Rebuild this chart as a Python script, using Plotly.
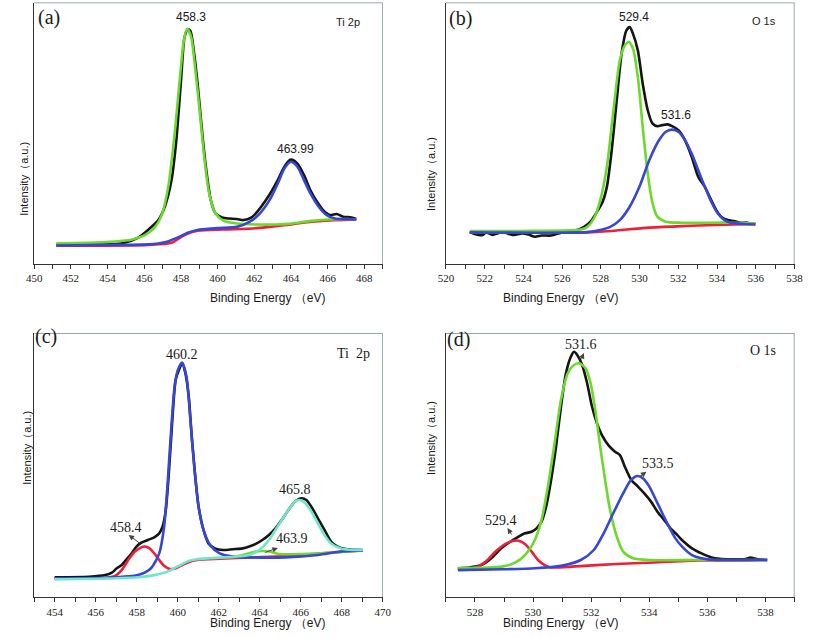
import plotly.graph_objects as go

# ---------------- data (binding energy eV, intensity a.u.) ----------------
# Panel (a) Ti 2p
a_black_x = [451.21, 453.03, 454.81, 455.70, 456.24, 456.77, 457.13, 457.49, 457.75, 458.02, 458.20, 458.38, 458.52, 458.70, 458.91, 459.13, 459.36, 459.63, 459.89, 460.25, 460.61, 461.05, 461.41, 461.85, 462.21, 462.57, 462.92, 463.28, 463.64, 463.99, 464.35, 464.71, 465.06, 465.42, 465.78, 466.13, 466.49, 466.84, 467.29, 467.56]
a_black_y = [7.3, 7.3, 7.9, 10.2, 13.2, 16.8, 22.1, 32.1, 47.3, 71.5, 86.8, 89.7, 89.1, 81.7, 69.0, 52.4, 37.2, 24.4, 19.3, 17.8, 17.4, 17.2, 16.8, 17.8, 20.4, 23.8, 27.6, 32.1, 37.2, 39.9, 38.4, 34.0, 28.2, 23.8, 20.4, 18.7, 19.1, 18.1, 17.8, 17.2]
a_green_x = [451.21, 453.92, 455.35, 456.06, 456.60, 456.95, 457.31, 457.66, 457.93, 458.16, 458.34, 458.56, 458.77, 459.00, 459.27, 459.54, 459.89, 460.34, 461.05, 462.12, 463.19, 464.08, 464.97, 466.04, 467.11, 467.56]
a_green_y = [7.9, 8.4, 9.4, 11.1, 14.2, 18.7, 29.5, 49.9, 70.0, 85.5, 89.9, 86.8, 75.3, 60.1, 41.0, 27.0, 19.3, 16.5, 15.5, 15.1, 15.1, 15.5, 16.4, 17.0, 17.2, 17.0]
a_blue_x = [451.21, 453.92, 456.24, 457.13, 457.84, 458.38, 458.91, 459.98, 461.05, 461.76, 462.30, 462.83, 463.28, 463.64, 463.99, 464.35, 464.71, 465.06, 465.51, 465.95, 466.40, 466.93, 467.56]
a_blue_y = [7.1, 7.3, 7.5, 8.3, 10.2, 12.0, 13.0, 13.7, 14.2, 16.2, 19.3, 24.4, 30.8, 36.5, 39.1, 37.2, 32.1, 27.0, 21.9, 18.7, 17.4, 17.2, 17.0]
a_red_x = [451.21, 456.24, 457.49, 458.20, 458.91, 460.34, 462.12, 463.73, 464.62, 465.69, 467.56]
a_red_y = [7.0, 7.3, 8.1, 11.1, 12.7, 13.2, 13.7, 14.9, 15.8, 16.5, 17.0]

# Panel (b) O 1s
b_black_x = [521.23, 521.48, 521.90, 522.07, 522.41, 522.66, 522.92, 523.42, 523.93, 524.26, 524.60, 524.94, 525.44, 525.95, 526.29, 526.79, 527.13, 527.47, 527.80, 528.06, 528.31, 528.56, 528.82, 529.07, 529.32, 529.49, 529.66, 529.91, 530.16, 530.42, 530.67, 530.92, 531.17, 531.43, 531.68, 532.02, 532.35, 532.69, 533.03, 533.37, 533.70, 533.96, 534.21, 534.55, 534.88, 535.22, 535.56, 535.98]
b_black_y = [12.3, 11.5, 11.1, 12.1, 11.1, 11.7, 12.3, 11.1, 11.7, 11.3, 10.4, 10.9, 10.9, 12.0, 12.3, 13.0, 14.2, 16.2, 20.0, 23.2, 29.5, 43.5, 62.6, 80.4, 89.3, 90.6, 88.0, 81.7, 69.0, 58.8, 53.7, 52.7, 53.1, 53.4, 52.7, 51.1, 47.3, 41.0, 33.3, 29.5, 24.4, 20.6, 18.1, 16.8, 16.4, 15.8, 15.8, 15.3]
b_green_x = [521.23, 524.60, 526.96, 527.30, 527.64, 527.97, 528.31, 528.65, 528.98, 529.24, 529.44, 529.66, 529.91, 530.16, 530.42, 530.67, 530.92, 531.34, 532.19, 534.71, 535.98]
b_green_y = [12.6, 12.7, 13.2, 14.2, 17.4, 24.4, 37.2, 58.8, 77.9, 83.6, 84.9, 82.3, 71.5, 52.4, 34.6, 23.2, 18.1, 16.2, 15.8, 15.8, 15.5]
b_blue_x = [521.23, 527.30, 527.97, 528.48, 528.98, 529.49, 529.99, 530.50, 531.00, 531.34, 531.68, 532.02, 532.35, 532.69, 533.03, 533.37, 533.70, 534.04, 534.38, 534.71, 535.39, 535.98]
b_blue_y = [12.1, 12.2, 13.0, 14.2, 16.8, 21.9, 29.5, 39.7, 47.3, 50.5, 51.4, 50.5, 47.3, 42.2, 35.9, 29.5, 23.8, 19.3, 16.8, 15.8, 15.3, 15.1]
b_red_x = [521.23, 527.30, 528.31, 529.32, 530.50, 532.19, 533.87, 535.98]
b_red_y = [12.1, 12.1, 12.5, 13.2, 13.9, 14.5, 14.9, 15.3]

# Panel (c) Ti 2p
c_black_x = [454.00, 455.67, 456.47, 456.79, 457.03, 457.27, 457.51, 457.75, 457.99, 458.23, 458.55, 458.86, 459.10, 459.26, 459.42, 459.58, 459.74, 459.90, 460.06, 460.22, 460.38, 460.54, 460.70, 460.86, 461.02, 461.26, 461.50, 461.81, 462.21, 462.69, 463.17, 463.49, 463.81, 464.13, 464.45, 464.77, 465.08, 465.40, 465.72, 466.04, 466.28, 466.52, 466.84, 467.16, 467.48, 467.80, 468.27, 469.04]
c_black_y = [7.6, 7.8, 8.4, 9.3, 11.0, 12.2, 14.4, 16.6, 19.2, 20.7, 21.7, 22.7, 24.2, 26.7, 33.0, 48.2, 67.1, 82.2, 86.0, 88.5, 84.7, 75.9, 59.5, 45.6, 34.3, 25.5, 20.4, 18.5, 17.9, 18.2, 18.5, 19.2, 20.2, 21.7, 23.6, 26.1, 29.3, 33.0, 36.2, 37.5, 36.8, 34.3, 29.9, 25.5, 21.1, 19.2, 18.2, 17.9]
c_red_x = [454.00, 456.47, 456.95, 457.27, 457.59, 457.91, 458.23, 458.39, 458.63, 458.86, 459.10, 459.34, 459.58, 459.82, 460.14, 460.46, 460.94, 462.05, 463.65, 465.24, 466.84, 469.04]
c_red_y = [7.1, 7.3, 8.1, 10.3, 14.1, 17.3, 18.9, 19.2, 18.5, 16.6, 14.1, 11.9, 10.8, 10.8, 11.9, 13.1, 14.1, 14.6, 15.1, 15.6, 16.6, 17.7]
c_green_x = [462.85, 463.33, 463.81, 464.05, 464.45, 464.93, 465.40, 466.84, 469.04]
c_green_y = [15.4, 16.3, 17.3, 17.5, 17.3, 16.4, 16.3, 16.6, 17.7]
c_blue_x = [454.00, 456.47, 458.07, 458.70, 459.10, 459.34, 459.50, 459.66, 459.85, 460.01, 460.22, 460.43, 460.62, 460.81, 461.02, 461.26, 461.58, 462.05, 462.69, 463.65, 465.24, 466.84, 467.96, 469.04]
c_blue_y = [7.2, 7.4, 8.4, 11.0, 16.6, 26.7, 41.9, 60.8, 79.7, 86.0, 88.8, 83.5, 67.1, 49.4, 34.3, 25.5, 19.8, 16.6, 15.4, 15.1, 15.1, 16.0, 17.3, 17.7]
c_cyan_x = [454.00, 456.47, 458.07, 458.86, 459.50, 459.82, 460.14, 460.46, 460.94, 461.58, 462.85, 463.49, 463.97, 464.45, 464.77, 465.08, 465.40, 465.72, 465.96, 466.20, 466.52, 466.84, 467.16, 467.48, 467.96, 468.59, 469.04]
c_cyan_y = [6.8, 7.1, 7.6, 8.4, 9.7, 11.0, 12.2, 13.5, 14.4, 14.8, 15.4, 16.0, 17.9, 21.7, 25.5, 29.3, 33.0, 36.2, 36.8, 35.8, 32.4, 28.0, 23.6, 20.4, 18.5, 17.9, 17.9]

# Panel (d) O 1s
d_black_x = [527.41, 527.81, 528.15, 528.37, 528.60, 528.82, 529.05, 529.27, 529.50, 529.72, 529.95, 530.12, 530.29, 530.45, 530.62, 530.79, 530.96, 531.13, 531.30, 531.41, 531.52, 531.69, 531.86, 532.03, 532.20, 532.37, 532.59, 532.82, 532.99, 533.16, 533.38, 533.61, 533.83, 534.06, 534.28, 534.51, 534.73, 534.96, 535.18, 535.47, 535.80, 536.14, 536.42, 536.82, 537.27, 537.49, 537.66, 538.06]
d_black_y = [11.0, 11.3, 11.9, 13.1, 15.1, 17.7, 19.8, 21.4, 23.0, 24.2, 24.8, 26.1, 28.6, 34.3, 44.4, 57.0, 72.1, 84.7, 91.0, 92.9, 91.7, 87.9, 81.0, 72.1, 65.8, 61.4, 57.6, 55.1, 53.8, 49.4, 44.4, 41.9, 39.3, 36.2, 32.4, 29.3, 26.1, 23.6, 21.1, 18.5, 16.6, 15.1, 14.6, 14.4, 14.4, 15.0, 14.6, 14.1]
d_red_x = [527.41, 528.03, 528.37, 528.71, 529.05, 529.33, 529.50, 529.72, 529.95, 530.17, 530.40, 530.62, 530.85, 531.75, 532.88, 534.00, 535.69, 538.06]
d_red_y = [10.8, 11.3, 13.5, 17.3, 20.2, 21.4, 21.4, 20.2, 17.3, 14.1, 12.2, 11.3, 11.3, 11.9, 12.6, 13.1, 13.9, 14.1]
d_green_x = [527.41, 528.93, 529.38, 529.72, 530.06, 530.29, 530.51, 530.74, 530.96, 531.19, 531.41, 531.60, 531.81, 531.98, 532.14, 532.31, 532.48, 532.65, 532.88, 533.10, 533.44, 534.00, 535.69, 538.06]
d_green_y = [11.0, 11.6, 13.1, 16.0, 21.7, 29.3, 41.9, 58.3, 74.7, 84.7, 87.9, 88.5, 86.6, 81.0, 70.9, 57.0, 44.4, 33.0, 23.0, 17.3, 14.8, 14.1, 14.1, 14.1]
d_blue_x = [527.41, 528.93, 530.06, 530.96, 531.64, 532.09, 532.43, 532.76, 533.10, 533.33, 533.50, 533.61, 533.78, 534.00, 534.23, 534.45, 534.68, 534.90, 535.13, 535.47, 535.80, 536.25, 538.06]
d_blue_y = [10.3, 10.6, 11.0, 11.9, 14.1, 17.9, 24.2, 31.8, 39.3, 43.8, 45.6, 45.9, 45.0, 41.9, 36.8, 31.8, 26.7, 22.3, 19.2, 16.0, 14.8, 14.1, 14.1]

x_ranges = {"a": [450, 469], "b": [520, 538], "c": [453, 470], "d": [527, 539]}
y_range = [0, 100]
x_first_label = {"a": 450, "b": 520, "c": 454, "d": 528}

# ---------------- styling ----------------
BLACK = "#151515"
RED = "#ee2038"
GREEN = "#6cda2a"
BLUE = "#3846d6"
CYAN = "#6fe6c8"
FRAME = "#7c8c93"
AXIS = "#333333"
LW = 2.6

W, H = 813, 638
def px(x):
    return x / W
def py(y):
    return 1 - y / H

dom_x = {"a": [px(26.7), px(382.7)], "b": [px(447.3), px(803.3)],
         "c": [px(26.7), px(382.7)], "d": [px(447.3), px(803.3)]}
dom_y = {"a": [py(264), py(2.5)], "b": [py(264), py(2.5)],
         "c": [py(597.3), py(333)], "d": [py(597.3), py(333)]}
axid = {"a": "", "b": "2", "c": "3", "d": "4"}

fig = go.Figure()

def add(panel, xs, ys, color):
    n = axid[panel]
    fig.add_trace(go.Scatter(x=xs, y=ys, mode="lines",
                             line=dict(color=color, width=LW, shape="spline", smoothing=0.7),
                             xaxis="x" + n, yaxis="y" + n, showlegend=False, hoverinfo="skip"))

# gray top/right frame edges, drawn along each panel's own axis range
for p in "abcd":
    n = axid[p]
    lo, hi = x_ranges[p]
    fig.add_trace(go.Scatter(x=[lo, hi, hi], y=[y_range[1], y_range[1], y_range[0]],
                             mode="lines", line=dict(color=FRAME, width=1.5),
                             cliponaxis=False, xaxis="x" + n, yaxis="y" + n,
                             showlegend=False, hoverinfo="skip"))

add("a", a_black_x, a_black_y, BLACK)
add("a", a_red_x, a_red_y, RED)
add("a", a_green_x, a_green_y, GREEN)
add("a", a_blue_x, a_blue_y, BLUE)

add("b", b_black_x, b_black_y, BLACK)
add("b", b_red_x, b_red_y, RED)
add("b", b_green_x, b_green_y, GREEN)
add("b", b_blue_x, b_blue_y, BLUE)

add("c", c_black_x, c_black_y, BLACK)
add("c", c_red_x, c_red_y, RED)
add("c", c_green_x, c_green_y, GREEN)
add("c", c_blue_x, c_blue_y, BLUE)
add("c", c_cyan_x, c_cyan_y, CYAN)

add("d", d_black_x, d_black_y, BLACK)
add("d", d_red_x, d_red_y, RED)
add("d", d_green_x, d_green_y, GREEN)
add("d", d_blue_x, d_blue_y, BLUE)

layout = dict(width=W, height=H, margin=dict(l=0, r=0, t=0, b=0, pad=0),
              plot_bgcolor="white", paper_bgcolor="white", showlegend=False)
for p in "abcd":
    n = axid[p]
    lo, hi = x_ranges[p]
    vals = list(range(int(lo), int(hi) + 1))
    texts = [str(v) if (v - x_first_label[p]) % 2 == 0 and v >= x_first_label[p] else "" for v in vals]
    layout["xaxis" + n] = dict(
        domain=dom_x[p], range=x_ranges[p], anchor="y" + n,
        tickmode="array", tickvals=vals, ticktext=texts,
        ticks="outside", ticklen=4, tickwidth=1, tickcolor=AXIS,
        showline=True, linecolor=AXIS, linewidth=1,
        showgrid=False, zeroline=False,
        tickfont=dict(family="Liberation Serif", size=11, color="#222"))
    layout["yaxis" + n] = dict(
        domain=dom_y[p], range=y_range, anchor="x" + n,
        showticklabels=False, ticks="", showline=True, linecolor=AXIS,
        linewidth=1, showgrid=False, zeroline=False)
fig.update_layout(**layout)

SANS = "Liberation Sans"
SERIF = "Liberation Serif"

def txt(panel, x, y, text, family, size):
    n = axid[panel]
    fig.add_annotation(x=x, y=y, xref="x" + n, yref="y" + n, text=text, showarrow=False,
                       font=dict(family=family, size=size, color="#1a1a1a"))

# panel letters
txt("a", 450.82, 94.3, "(a)", SERIF, 20)
txt("b", 520.74, 93.9, "(b)", SERIF, 20)
txt("c", 453.59, 98.6, "(c)", SERIF, 20)
txt("d", 527.43, 97.4, "(d)", SERIF, 20)
# core-level labels
txt("a", 467.1, 92.7, "Ti 2p", SANS, 11)
txt("b", 536.44, 93.1, "O 1s", SANS, 11)
txt("c", 468.57, 92.4, "Ti  2p", SERIF, 14)
txt("d", 537.9, 93.2, "O 1s", SERIF, 14)
# peak labels
txt("a", 458.57, 94.3, "458.3", SANS, 12)
txt("a", 464.24, 43.9, "463.99", SANS, 12)
txt("b", 529.73, 94.3, "529.4", SANS, 12)
txt("b", 531.9, 56.9, "531.6", SANS, 12)
txt("c", 460.19, 91.7, "460.2", SERIF, 14)
txt("c", 465.74, 40.6, "465.8", SERIF, 14)
txt("c", 457.47, 26.6, "458.4", SERIF, 14)
txt("c", 465.6, 22.4, "463.9", SERIF, 14)
txt("d", 531.65, 95.8, "531.6", SERIF, 14)
txt("d", 534.29, 50.8, "533.5", SERIF, 14)
txt("d", 528.88, 28.9, "529.4", SERIF, 14)

# small arrows
def arrow(panel, x, y, ax, ay):
    n = axid[panel]
    fig.add_annotation(x=x, y=y, xref="x" + n, yref="y" + n, ax=ax, ay=ay,
                       axref="pixel", ayref="pixel", text="", showarrow=True,
                       arrowhead=2, arrowsize=1.1, arrowwidth=1, arrowcolor="#444")

arrow("c", 457.61, 23.6, 12, 9)
arrow("c", 464.89, 18.7, -14, 5)
arrow("d", 531.75, 92.4, -3, 7)
arrow("d", 533.9, 47.5, -8, 6)
arrow("d", 529.12, 26.2, 5, 8)

# axis titles
xt = "Binding Energy （eV)"
yt = "Intensity（a.u.)"
for (cx, cy) in [(204.7, 298), (625.3, 298), (204.7, 632), (625.3, 632)]:
    fig.add_annotation(x=px(cx), y=py(cy), xref="paper", yref="paper", text=xt, showarrow=False,
                       font=dict(family=SANS, size=12, color="#1a1a1a"))
for (cx, cy) in [(8, 140), (432, 135), (11, 487), (432, 477)]:
    fig.add_annotation(x=px(cx), y=py(cy), xref="paper", yref="paper", text=yt, showarrow=False,
                       textangle=-90, font=dict(family=SANS, size=11, color="#1a1a1a"))

fig.write_html("out.html", config={"displayModeBar": False},
               post_script="document.body.style.margin='0';document.body.style.overflow='hidden';")
